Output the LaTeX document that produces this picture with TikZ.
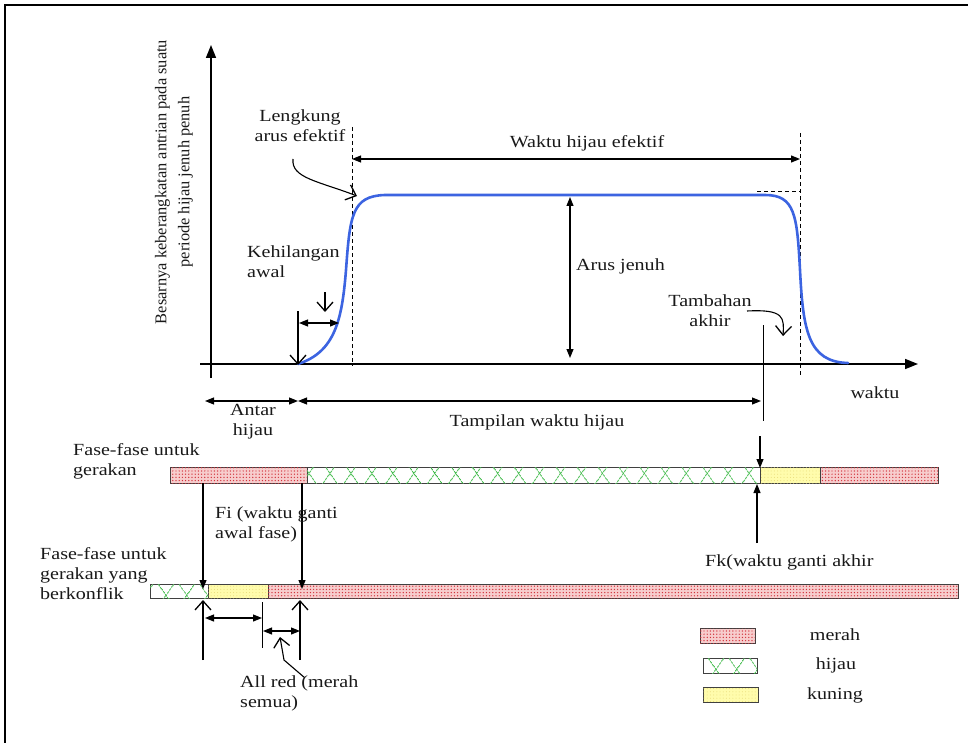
\documentclass[tikz,border=0pt]{standalone}
\usepackage{fontspec}
\setmainfont{Liberation Serif}[FakeStretch=1.18]
\newfontfamily\axisfont{Liberation Serif}
\usetikzlibrary{arrows.meta,patterns.meta}
\definecolor{curveblue}{RGB}{60,100,225}
\definecolor{merahfill}{RGB}{247,205,205}
\definecolor{merahdot}{RGB}{210,50,60}
\definecolor{hijauline}{RGB}{60,185,70}
\definecolor{kuningfill}{RGB}{255,252,172}
\definecolor{kuningdot}{RGB}{232,218,120}
\tikzset{
  lbl/.style={font=\fontsize{17}{20}\selectfont, inner sep=0pt, text=black!90},
  dim/.style={line width=1.1pt, {Triangle[length=9pt,width=7pt]}-{Triangle[length=9pt,width=7pt]}},
  fall/.style={line width=1.1pt, -{Triangle[length=9pt,width=7pt]}},
  barb/.style={line width=1.1pt, -{Straight Barb[length=9pt,width=16pt,line width=1.3pt]}},
  marker/.style={line width=0.9pt},
  guide/.style={line width=0.8pt, dash pattern=on 4pt off 3pt},
  redbar/.style={draw=black!75, line width=0.6pt, fill=merahfill,
    postaction={pattern={Dots[radius=0.7pt,distance=3.2pt]}, pattern color=merahdot}},
  greenbar/.style={draw=black!75, line width=0.6pt, fill=white,
    postaction={pattern={Lines[angle=55,distance=17pt,line width=0.8pt]}, pattern color=hijauline},
    postaction={pattern={Lines[angle=-55,distance=17pt,line width=0.8pt]}, pattern color=hijauline}},
  yellowbar/.style={draw=black!75, line width=0.6pt, fill=kuningfill,
    postaction={pattern={Dots[radius=0.5pt,distance=3.2pt]}, pattern color=kuningdot}}
}
\begin{document}
\begin{tikzpicture}[x=1pt, y=-1pt]
  \useasboundingbox[fill=white] (0,0) rectangle (968,743);
  \draw[line width=1.3pt] (5,743) -- (5,5) -- (968,5);

  % axes
  \coordinate (ybot) at (211,378); \coordinate (ytop) at (211,45);
  \coordinate (xbeg) at (200,364); \coordinate (xend) at (918,364);
  \draw[line width=1.6pt, -{Triangle[length=13pt,width=10pt]}] (ybot) -- (ytop);
  \draw[line width=1.6pt, -{Triangle[length=13pt,width=10pt]}] (xbeg) -- (xend);
  \node[rotate=90, align=center, inner sep=0pt, text=black!90,
        font=\axisfont\fontsize{16.4}{23}\selectfont] (ylabel) at (174,182)
    {Besarnya keberangkatan antrian pada suatu\\periode hijau jenuh penuh};
  \node[lbl] (waktu) at (875,393) {waktu};

  % effective green lines
  \coordinate (gl1) at (352,127); \coordinate (gl2) at (352,366);
  \coordinate (gr1) at (800,133); \coordinate (gr2) at (800,377);
  \draw[guide] (gl1) -- (gl2) (gr1) -- (gr2);
  \coordinate (sat1) at (757,191); \coordinate (sat2) at (800,191);
  \draw[guide] (sat1) -- (sat2);

  % departure curve
  \draw[curveblue, line width=2.6pt, line cap=round]
    (298,364) .. controls (335,352) and (342,320) .. (346,270)
              .. controls (350,215) and (352,196) .. (385,195) -- (765,195)
              .. controls (795,195) and (797,215) .. (800,270)
              .. controls (803,330) and (808,362) .. (848,363);

  % effective green time
  \coordinate (he1) at (352,159); \coordinate (he2) at (800,159);
  \draw[dim] (he1) -- (he2);
  \node[lbl] (hijauef) at (587,143) {Waktu hijau efektif};

  % saturation flow
  \coordinate (aj1) at (570,197); \coordinate (aj2) at (570,358);
  \draw[dim] (aj1) -- (aj2);
  \node[lbl, anchor=west] (arusjenuh) at (576,266) {Arus jenuh};

  % effective flow curve label
  \node[lbl, align=center] (lengkung) at (300,126) {Lengkung\\arus efektif};
  \coordinate (lk1) at (293,159); \coordinate (lk2) at (357,196);
  \draw[barb] (lk1) .. controls (291,178) and (318,181) .. (lk2);

  % start lost time
  \node[lbl, anchor=west, align=left] (kehilangan) at (247,262) {Kehilangan\\awal};
  \coordinate (kv1) at (325,292); \coordinate (kv2) at (325,312);
  \draw[barb] (kv1) -- (kv2);
  \coordinate (kh1) at (299,323); \coordinate (kh2) at (339,323);
  \draw[dim] (kh1) -- (kh2);
  \coordinate (ks1) at (298,311); \coordinate (ks2) at (298,365);
  \draw[barb] (ks1) -- (ks2);

  % end gain
  \node[lbl, align=center] (tambahan) at (710,311) {Tambahan\\akhir};
  \coordinate (ta1) at (747,311); \coordinate (ta2) at (783,336);
  \draw[barb] (ta1) .. controls (785,309) and (784,318) .. (ta2);
  \coordinate (te1) at (763,325); \coordinate (te2) at (763,421);
  \draw[marker] (te1) -- (te2);

  % intergreen and displayed green
  \coordinate (ah1) at (205,401); \coordinate (ah2) at (298,401);
  \coordinate (tw2) at (761,401);
  \draw[dim] (ah1) -- (ah2);
  \draw[dim] (ah2) -- (tw2);
  \node[lbl, align=center] (antar) at (253,422) {Antar\\hijau};
  \node[lbl] (tampilan) at (537,422) {Tampilan waktu hijau};

  % phase bars
  \node[lbl, anchor=west, align=left] (fase1) at (73,461) {Fase-fase untuk\\gerakan};
  \foreach \xa/\xb/\st in {170/307/redbar, 307/760/greenbar, 760/820/yellowbar, 820/938/redbar}
    \draw[\st] (\xa,467) rectangle (\xb,483);
  \node[lbl, anchor=west, align=left] (fase2) at (40,574) {Fase-fase untuk\\gerakan yang\\berkonflik};
  \foreach \xa/\xb/\st in {150/208/greenbar, 208/268/yellowbar, 268/958/redbar}
    \draw[\st] (\xa,584) rectangle (\xb,598);

  \coordinate (tb1) at (760,436); \coordinate (tb2) at (760,468);
  \draw[fall] (tb1) -- (tb2);

  % change intervals
  \coordinate (fi1) at (203,483); \coordinate (fi2) at (203,589);
  \coordinate (fi3) at (302,483); \coordinate (fi4) at (302,589);
  \draw[fall] (fi1) -- (fi2);
  \draw[fall] (fi3) -- (fi4);
  \node[lbl, anchor=west, align=left] (fi) at (215,524) {Fi (waktu ganti\\awal fase)};
  \coordinate (fk1) at (757,543); \coordinate (fk2) at (757,484);
  \draw[fall] (fk1) -- (fk2);
  \node[lbl, anchor=west] (fk) at (705,562) {Fk(waktu ganti akhir};

  % all red
  \coordinate (ba1) at (203,660); \coordinate (ba2) at (203,600);
  \coordinate (bb1) at (300,660); \coordinate (bb2) at (300,600);
  \draw[barb] (ba1) -- (ba2);
  \draw[barb] (bb1) -- (bb2);
  \coordinate (am1) at (262,602); \coordinate (am2) at (262,648);
  \draw[marker] (am1) -- (am2);
  \coordinate (ky1) at (205,618); \coordinate (ky2) at (262,618);
  \draw[dim] (ky1) -- (ky2);
  \coordinate (ar1) at (263,631); \coordinate (ar2) at (300,631);
  \draw[dim] (ar1) -- (ar2);
  \coordinate (pt1) at (305,678); \coordinate (pt2) at (284,660); \coordinate (pt3) at (280,637);
  \draw[barb] (pt1) -- (pt2) -- (pt3);
  \node[lbl, anchor=west, align=left] (allred) at (240,693) {All red (merah\\semua)};

  % legend
  \draw[redbar] (700,628) rectangle (755,643);
  \draw[greenbar] (703,658) rectangle (757,673);
  \draw[yellowbar] (703,687) rectangle (758,702);
  \node[lbl] (merah) at (835,635) {merah};
  \node[lbl] (hijau) at (836,665) {hijau};
  \node[lbl] (kuning) at (835,695) {kuning};
\end{tikzpicture}
\end{document}
